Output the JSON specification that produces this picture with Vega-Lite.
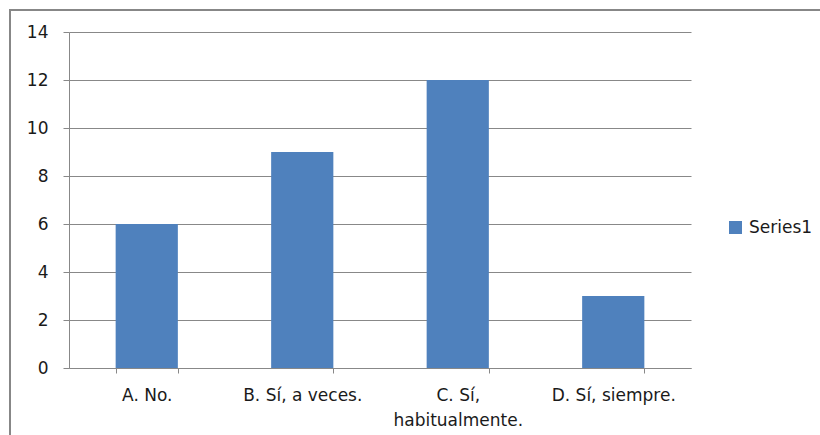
{
  "$schema": "https://vega.github.io/schema/vega-lite/v6.json",
  "width": 812,
  "height": 427,
  "autosize": {"type": "none"},
  "padding": {"left": 10, "top": 10, "right": 0, "bottom": 0},
  "background": "white",
  "config": {
    "view": {"stroke": "#878787", "strokeWidth": 2},
    "font": "DejaVu Sans"
  },
  "data": {
    "values": [
      {"answer": "A. No.", "count": 6},
      {"answer": "B. Sí, a veces.", "count": 9},
      {"answer": "C. Sí, habitualmente.", "count": 12},
      {"answer": "D. Sí, siempre.", "count": 3}
    ]
  },
  "mark": {"type": "bar"},
  "encoding": {
    "x": {
      "field": "answer",
      "type": "nominal",
      "sort": null,
      "scale": {"range": [59, 681], "paddingInner": 0.6, "paddingOuter": 0.3},
      "axis": {
        "title": null,
        "orient": "bottom",
        "offset": -69,
        "labelAngle": 0,
        "labelFontSize": 17,
        "labelColor": "#1a1a1a",
        "labelPadding": 14,
        "labelLineHeight": 25,
        "labelOverlap": false,
        "labelLimit": 0,
        "labelExpr": "datum.label == 'C. Sí, habitualmente.' ? ['C. Sí,', 'habitualmente.'] : datum.label",
        "tickBand": "extent",
        "tickSize": 5,
        "tickColor": "#888888",
        "domainColor": "#888888",
        "grid": false
      }
    },
    "y": {
      "field": "count",
      "type": "quantitative",
      "scale": {"domain": [0, 14], "range": [358, 22], "nice": false, "zero": true},
      "axis": {
        "title": null,
        "offset": -59,
        "values": [0, 2, 4, 6, 8, 10, 12, 14],
        "labelFontSize": 17,
        "labelColor": "#1a1a1a",
        "labelPadding": 15,
        "tickSize": 6,
        "tickColor": "#888888",
        "domainColor": "#888888",
        "grid": true,
        "gridColor": "#888888",
        "gridWidth": 1
      }
    },
    "color": {
      "datum": "Series1",
      "type": "nominal",
      "scale": {"range": ["#4F81BD"]},
      "legend": {
        "title": null,
        "orient": "none",
        "legendX": 717,
        "legendY": 209,
        "padding": 0,
        "symbolType": "square",
        "symbolSize": 169,
        "symbolStrokeWidth": 0,
        "labelFontSize": 17,
        "labelColor": "#1a1a1a",
        "labelOffset": 5
      }
    }
  }
}
